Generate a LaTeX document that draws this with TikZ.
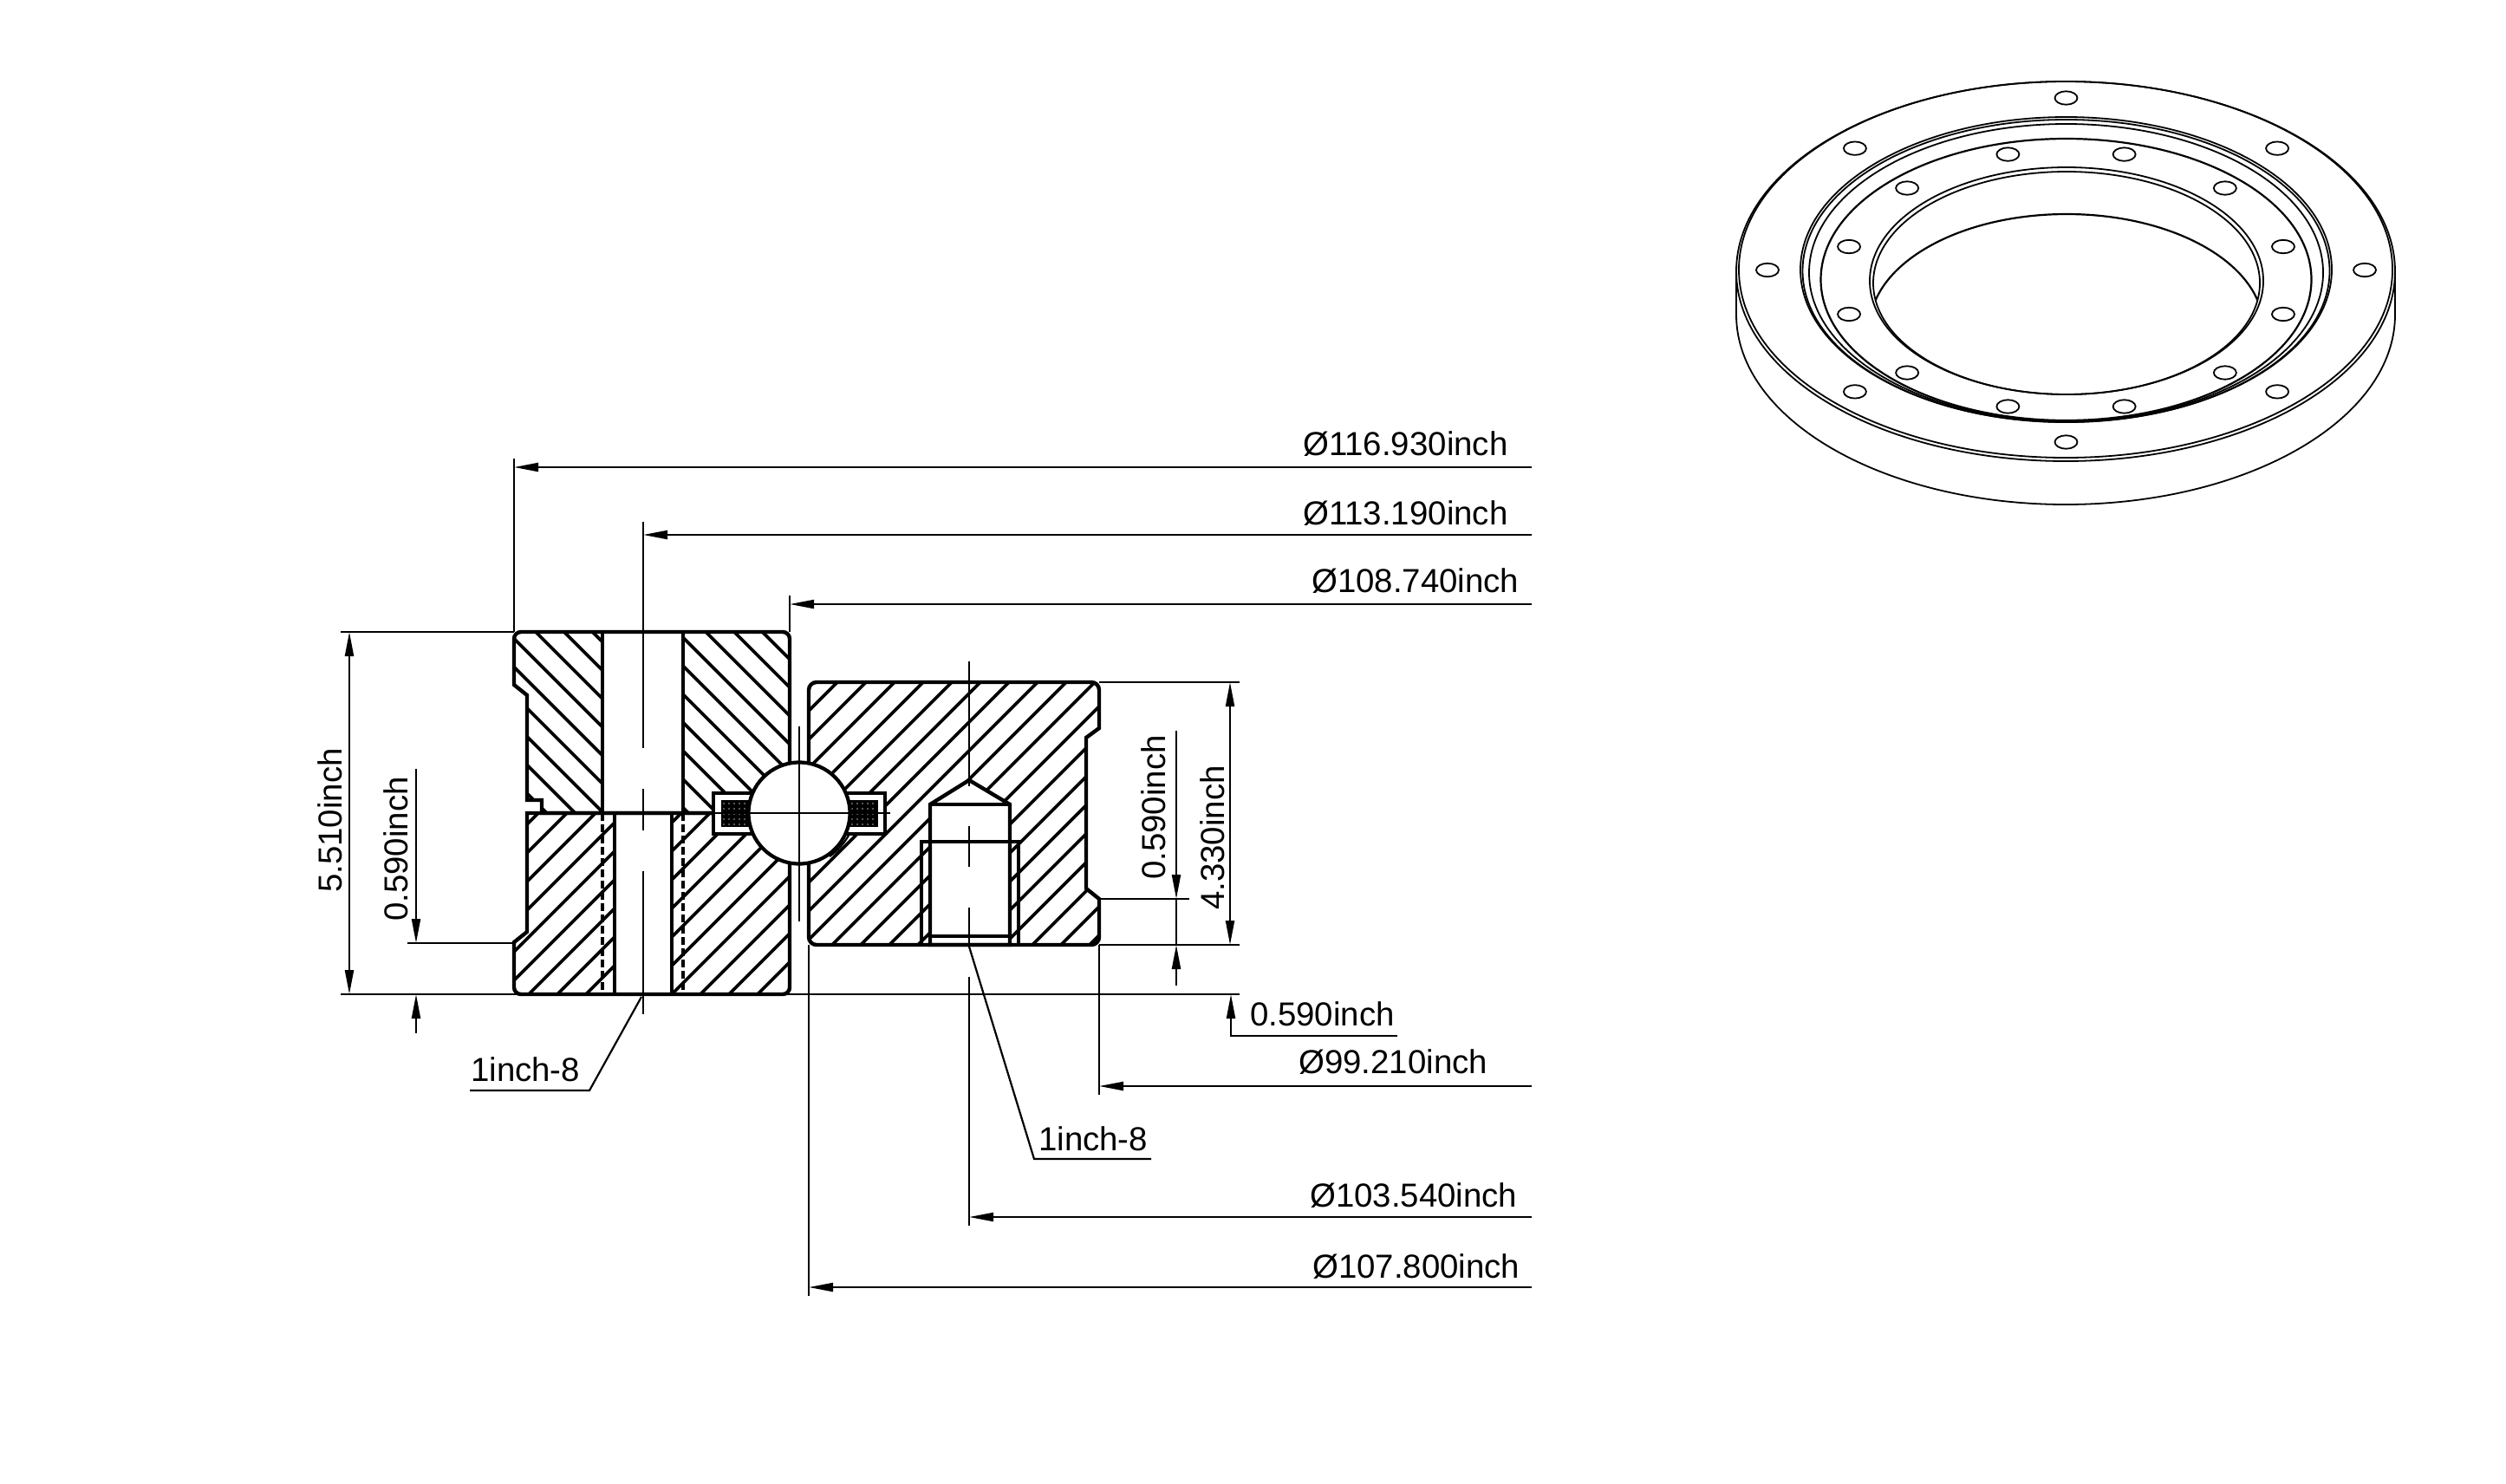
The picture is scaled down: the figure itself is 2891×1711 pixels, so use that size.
\documentclass[tikz,border=0pt]{standalone}
\usepackage{fontspec}
\setmainfont{Liberation Sans}
\usetikzlibrary{arrows.meta}

\begin{document}
\begin{tikzpicture}[x=1pt,y=-1pt,>={Triangle[length=28pt,width=10pt]}]
  \tikzstyle{outline}=[line width=4.4pt,line join=miter]
  \tikzstyle{hatchline}=[line width=3.7pt]
  \tikzstyle{dimline}=[line width=2.2pt]
  \tikzstyle{ringline}=[line width=1.8pt]
  \tikzstyle{dimtext}=[font=\fontsize{38.4}{40}\selectfont,inner sep=0pt]
  \useasboundingbox (0,0) rectangle (2891,1711);

  \def\upperblock{(593,790) [rounded corners=8pt] -- (593,745) -- (593,729) -- (911,729) -- (911,760) [sharp corners] -- (911,938) -- (625,938) -- (625,923) -- (608,923) -- (608,802) -- cycle}
  \def\lowerblock{(608,938) -- (911,938) -- (911,1110) [rounded corners=8pt] -- (911,1147) -- (593,1147) -- (593,1110) [sharp corners] -- (593,1087) -- (608,1075) -- cycle}
  \def\outerblock{(933,1000) [rounded corners=9pt] -- (933,787) -- (1268,787) -- (1268,815) [sharp corners] -- (1268,840) -- (1253,851) -- (1253,1025) -- (1268,1037) -- (1268,1065) [rounded corners=9pt] -- (1268,1090) -- (933,1090) -- cycle}

  % hatching
  \begin{scope}
    \clip \upperblock;
    \foreach \k in {-8,...,10}
      \draw[hatchline] ({589+32.7*\k},700) -- ++(300,300);
  \end{scope}
  \begin{scope}
    \clip \lowerblock;
    \foreach \k in {-7,...,10}
      \draw[hatchline] ({607+33*\k},1150) -- ++(300,-300);
  \end{scope}
  \begin{scope}
    \clip \outerblock;
    \foreach \k in {-10,...,10}
      \draw[hatchline] ({950+33*\k},1100) -- ++(330,-330);
  \end{scope}

  % bores
  \fill[white] (695,729) rectangle (788,938);
  \fill[white] (709,938) rectangle (775,1147);
  \draw[outline] (695,729) -- (695,938);
  \draw[outline] (788,729) -- (788,938);
  \draw[outline] (709,938) -- (709,1147);
  \draw[outline] (775,938) -- (775,1147);
  \draw[hatchline,dash pattern=on 9pt off 4pt] (695,938) -- (695,1147);
  \draw[hatchline,dash pattern=on 9pt off 4pt] (788,938) -- (788,1147);

  \draw[outline,fill=white] (1073,1090) -- (1073,928) -- (1118,900) -- (1165,928) -- (1165,1090) -- cycle;
  \draw[outline] (1073,928) -- (1165,928);
  \draw[hatchline] (1073,1080) -- (1165,1080);
  \draw[outline,line width=3.6pt] (1063,971) rectangle (1175,1090);

  % block outlines
  \draw[outline] \upperblock;
  \draw[outline] \lowerblock;
  \draw[outline] \outerblock;

  % seal
  \draw[outline,line width=3.6pt,fill=white] (823,915) rectangle (1021,962);
  \fill[black] (832,923) rectangle (1013,954);
  \foreach \x in {835,841,...,871}
    \foreach \y in {927,933,...,951}
      \fill[white!70!black] (\x,\y) circle (0.9);
  \foreach \x in {977,983,...,1010}
    \foreach \y in {927,933,...,951}
      \fill[white!70!black] (\x,\y) circle (0.9);

  % ball
  \draw[dimline] (980,962) .. controls (974,973) and (966,982) .. (957,988);
  \node[circle,draw,fill=white,line width=4.2pt,minimum size=117pt,inner sep=0pt] (ball) at (922,938) {};
  \draw[dimline] (822,938) -- (1027,938);
  \draw[dimline] (922,838) -- (922,1063);

  % centre lines
  \draw[dimline] (742,602) -- (742,863);
  \draw[dimline] (742,910) -- (742,958);
  \draw[dimline] (742,1005) -- (742,1170);
  \draw[dimline] (1118,763) -- (1118,907);
  \draw[dimline] (1118,953) -- (1118,1000);
  \draw[dimline] (1118,1047) -- (1118,1092);
  \draw[dimline] (1118,1127) -- (1118,1414);

  % extension lines
  \draw[dimline] (593,529) -- (593,729);
  \draw[dimline] (911,687) -- (911,729);
  \draw[dimline] (933,1090) -- (933,1495);
  \draw[dimline] (1268,1090) -- (1268,1263);
  \draw[dimline] (393,729) -- (593,729);
  \draw[dimline] (393,1147) -- (1430,1147);
  \draw[dimline] (470,1088) -- (593,1088);
  \draw[dimline] (1268,787) -- (1430,787);
  \draw[dimline] (1268,1037) -- (1372,1037);
  \draw[dimline] (1268,1090) -- (1430,1090);

  % diameters
  \draw[dimline,->] (1767,539) -- (593,539);
  \draw[dimline,->] (1767,617) -- (742,617);
  \draw[dimline,->] (1767,697) -- (911,697);
  \draw[dimline,->] (1767,1253) -- (1268,1253);
  \draw[dimline,->] (1767,1404) -- (1118,1404);
  \draw[dimline,->] (1767,1485) -- (933,1485);

  % heights
  \draw[dimline,<->] (403,729) -- (403,1147);
  \draw[dimline,->] (480,887) -- (480,1088);
  \draw[dimline,->] (480,1192) -- (480,1147);
  \draw[dimline,<->] (1419,787) -- (1419,1090);
  \draw[dimline,->] (1357,843) -- (1357,1037);
  \draw[dimline,->] (1357,1137) -- (1357,1090);
  \draw[dimline] (1357,1037) -- (1357,1090);
  \draw[dimline,->] (1612,1195) -- (1420,1195) -- (1420,1147);

  % leaders
  \draw[dimline] (542,1258) -- (680,1258) -- (740,1150);
  \draw[dimline] (1328,1337) -- (1193,1337) -- (1118,1092);

  % labels
  \node[dimtext,anchor=base west] (diaA) at (1503,525) {Ø116.930inch};
  \node[dimtext,anchor=base west] (diaB) at (1503,605) {Ø113.190inch};
  \node[dimtext,anchor=base west] (diaC) at (1513,683) {Ø108.740inch};
  \node[dimtext,anchor=base west] (diaD) at (1498,1238) {Ø99.210inch};
  \node[dimtext,anchor=base west] (diaE) at (1511,1392) {Ø103.540inch};
  \node[dimtext,anchor=base west] (diaF) at (1514,1474) {Ø107.800inch};
  \node[dimtext,anchor=base west] (gapR) at (1442,1183) {0.590inch};
  \node[dimtext,anchor=base west] (threadL) at (543,1247) {1inch-8};
  \node[dimtext,anchor=base west] (threadR) at (1198,1327) {1inch-8};
  \node[dimtext,rotate=90,anchor=base west] (hgtL) at (394,1030) {5.510inch};
  \node[dimtext,rotate=90,anchor=base west] (gapL) at (470,1063) {0.590inch};
  \node[dimtext,rotate=90,anchor=base west] (gapU) at (1344,1015) {0.590inch};
  \node[dimtext,rotate=90,anchor=base west] (hgtR) at (1412,1050) {4.330inch};

  % ring view
  \draw[ringline] (2383,313) ellipse (380 and 219);
  \draw[ringline] (2383,311) ellipse (377 and 217);
  \begin{scope}
    \clip (1990,363) rectangle (2780,600);
    \draw[ringline] (2383,363) ellipse (380 and 219);
  \end{scope}
  \draw[ringline] (2003,313) -- (2003,363);
  \draw[ringline] (2763,313) -- (2763,363);
  \draw[ringline] (2383.5,311) ellipse (306.5 and 176);
  \draw[ringline] (2383.5,312.5) ellipse (304 and 174.5);
  \draw[ringline] (2383.5,314.5) ellipse (296.5 and 171.5);
  \draw[ringline,line width=2.2pt] (2383.5,322.5) ellipse (283 and 162.5);
  \draw[ringline] (2384,324) ellipse (227 and 131);
  \draw[ringline] (2384,326.5) ellipse (223 and 128.5);
  \begin{scope}
    \clip (2384,326.5) ellipse (223 and 128.5);
    \draw[ringline,line width=2.2pt] (2384,378) ellipse (227 and 131);
  \end{scope}
  \foreach \a in {0,45,...,315}
    \draw[ringline] ({2383.5+344.5*cos(\a)},{311.5+198.5*sin(\a)}) ellipse (13 and 7.7);
  \foreach \a in {15,45,...,345}
    \draw[ringline] ({2383.5+259.3*cos(\a)},{323.5+150.6*sin(\a)}) ellipse (13 and 7.7);
\end{tikzpicture}
\end{document}
